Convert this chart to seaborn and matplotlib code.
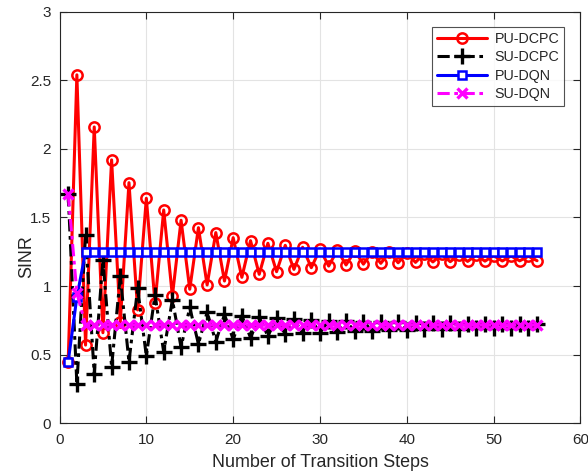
import matplotlib
matplotlib.use("Agg")
import matplotlib.pyplot as plt
import seaborn as sns
import pandas as pd

steps = list(range(1, 56))

pu_dcpc = [0.45, 2.54, 0.57, 2.16, 0.66, 1.92, 0.74, 1.754, 0.826, 1.64,
           0.875, 1.555, 0.928, 1.48, 0.977, 1.426, 1.008, 1.39, 1.037, 1.353,
           1.064, 1.331, 1.086, 1.312, 1.105, 1.297, 1.122, 1.283, 1.134, 1.27,
           1.146, 1.262, 1.154, 1.256, 1.16, 1.25, 1.166, 1.245, 1.17, 1.24,
           1.173, 1.236, 1.176, 1.232, 1.178, 1.228, 1.18, 1.225, 1.182, 1.222,
           1.183, 1.22, 1.184, 1.218, 1.185]

su_dcpc = [1.67, 0.286, 1.37, 0.36, 1.19, 0.413, 1.07, 0.449, 0.984, 0.49,
           0.935, 0.52, 0.90, 0.554, 0.845, 0.578, 0.81, 0.595, 0.793, 0.612,
           0.784, 0.624, 0.773, 0.636, 0.765, 0.649, 0.76, 0.656, 0.752, 0.66,
           0.748, 0.665, 0.744, 0.67, 0.74, 0.675, 0.737, 0.678, 0.735, 0.681,
           0.733, 0.684, 0.731, 0.687, 0.729, 0.69, 0.727, 0.692, 0.725, 0.694,
           0.724, 0.696, 0.723, 0.698, 0.722]

pu_dqn = [0.45, 0.92, 1.25, 1.25, 1.25, 1.25, 1.25, 1.25, 1.25, 1.25,
          1.25, 1.25, 1.25, 1.25, 1.25, 1.25, 1.25, 1.25, 1.25, 1.25,
          1.25, 1.25, 1.25, 1.25, 1.25, 1.25, 1.25, 1.25, 1.25, 1.25,
          1.25, 1.25, 1.25, 1.25, 1.25, 1.25, 1.25, 1.25, 1.25, 1.25,
          1.25, 1.25, 1.25, 1.25, 1.25, 1.25, 1.25, 1.25, 1.25, 1.25,
          1.25, 1.25, 1.25, 1.25, 1.25]

su_dqn = [1.67, 0.95, 0.715, 0.715, 0.715, 0.715, 0.715, 0.715, 0.715, 0.715,
          0.715, 0.715, 0.715, 0.715, 0.715, 0.715, 0.715, 0.715, 0.715, 0.715,
          0.715, 0.715, 0.715, 0.715, 0.715, 0.715, 0.715, 0.715, 0.715, 0.715,
          0.715, 0.715, 0.715, 0.715, 0.715, 0.715, 0.715, 0.715, 0.715, 0.715,
          0.715, 0.715, 0.715, 0.715, 0.715, 0.715, 0.715, 0.715, 0.715, 0.715,
          0.715, 0.715, 0.715, 0.715, 0.715]

series_names = ["PU-DCPC", "SU-DCPC", "PU-DQN", "SU-DQN"]
x_ticks = [0, 10, 20, 30, 40, 50, 60]
y_ticks = [0, 0.5, 1, 1.5, 2, 2.5, 3]
y_tick_labels = ["0", "0.5", "1", "1.5", "2", "2.5", "3"]

sns.set_style("white")
plt.rcParams["font.family"] = ["Liberation Sans", "DejaVu Sans"]

fig = plt.figure(figsize=(5.88, 4.72), dpi=100)
ax = fig.add_axes([0.1012, 0.1032, 0.886, 0.872])

styles = [
    dict(color=(1, 0, 0), linestyle="-", marker="o", markersize=7.4,
         markerfacecolor="none", markeredgecolor=(1, 0, 0),
         markeredgewidth=1.8, linewidth=2.2),
    dict(color="black", linestyle=(0, (4, 1.5, 1.2, 1.5)), marker="+", markersize=11,
         markerfacecolor="black", markeredgecolor="black",
         markeredgewidth=2.4, linewidth=2.2),
    dict(color=(0, 0, 1), linestyle="-", marker="s", markersize=6,
         markerfacecolor="white", markeredgecolor=(0, 0, 1),
         markeredgewidth=1.8, linewidth=2.2),
    dict(color=(1, 0, 1), linestyle=(0, (4, 1.5, 1.2, 1.5)), marker="x", markersize=7.5,
         markerfacecolor=(1, 0, 1), markeredgecolor=(1, 0, 1),
         markeredgewidth=2.4, linewidth=2.2),
]

handles = []
for name, vals, st in zip(series_names, [pu_dcpc, su_dcpc, pu_dqn, su_dqn], styles):
    df = pd.DataFrame({"step": steps, "sinr": vals})
    n_before = len(ax.lines)
    sns.lineplot(data=df, x="step", y="sinr", ax=ax, legend=False, errorbar=None)
    line = ax.lines[n_before]
    line.set_color(st["color"])
    line.set_linestyle(st["linestyle"])
    line.set_linewidth(st["linewidth"])
    line.set_marker(st["marker"])
    line.set_markersize(st["markersize"])
    line.set_markerfacecolor(st["markerfacecolor"])
    line.set_markeredgecolor(st["markeredgecolor"])
    line.set_markeredgewidth(st["markeredgewidth"])
    line.set_label(name)
    handles.append(line)

ax.set_xlim(0, 60)
ax.set_ylim(0, 3)
ax.set_xticks(x_ticks)
ax.set_yticks(y_ticks)
ax.set_yticklabels(y_tick_labels)
ax.set_xlabel("Number of Transition Steps", fontsize=12.9, color="#262626", labelpad=5)
ax.set_ylabel("SINR", fontsize=12.9, color="#262626")
ax.yaxis.set_label_coords(-0.047, 0.404)

ax.grid(True, color="#e3e3e3", linewidth=0.8)
ax.set_axisbelow(True)
for sp in ax.spines.values():
    sp.set_visible(True)
    sp.set_color("#262626")
    sp.set_linewidth(0.8)
ax.tick_params(direction="in", length=5, width=0.8, colors="#262626",
               labelsize=11, top=True, right=True, bottom=True, left=True,
               labeltop=False, labelright=False)
ax.tick_params(axis="x", pad=7)
ax.tick_params(axis="y", pad=6)

leg = ax.legend(handles=handles, labels=series_names, loc="upper right",
                bbox_to_anchor=(0.969, 0.963), fontsize=10.3,
                frameon=True, fancybox=False, edgecolor="#262626",
                handlelength=3.5, borderpad=0.35, labelspacing=0.3,
                handletextpad=0.5, borderaxespad=0.0)
leg.get_frame().set_linewidth(0.8)

fig.savefig("out.png", dpi=100)
